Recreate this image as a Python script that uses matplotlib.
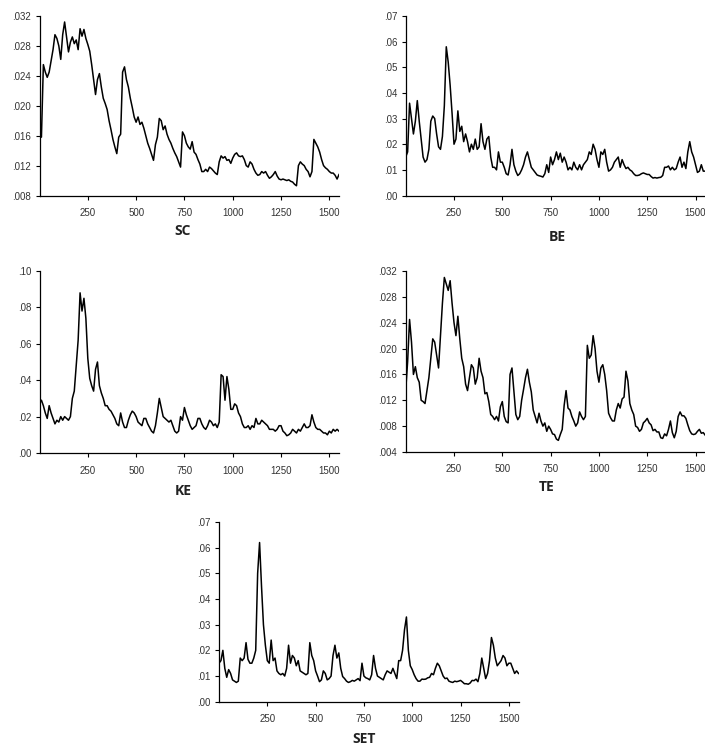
import numpy as np
import matplotlib
matplotlib.use("Agg")
import matplotlib.pyplot as plt
from matplotlib.ticker import FuncFormatter

# ---- data (values read every 10 observations, t = 0, 10, ..., 1550) ----
sc_values = [
    .0163, .0158, .0255, .0245, .0238, .0245, .026, .0275, .0295, .029,
    .028, .0262, .0295, .0312, .0292, .0272, .0285, .0292, .0283, .0288,
    .0275, .0303, .0293, .0302, .029, .0282, .0273, .0255, .0235, .0215,
    .0235, .0243, .0225, .021, .0203, .0195, .018, .0168, .0155, .0145,
    .0136, .0158, .0162, .0245, .0252, .0235, .0225, .021, .0198, .0185,
    .0178, .0185, .0175, .0178, .017, .016, .015, .0143, .0135, .0127,
    .0148, .0158, .0183, .018, .0168, .0173, .0162, .0155, .015, .0143,
    .0137, .0132, .0125, .0118, .0165, .016, .015, .0145, .0142, .0152,
    .0138, .0135, .0128, .0122, .0112, .0112, .0115, .0112, .0118, .0116,
    .0113, .011, .0108, .0125, .0133, .013, .0132, .0127, .0128, .0123,
    .013, .0135, .0137, .0133, .0132, .0133, .0128, .012, .0118, .0125,
    .0122, .0115, .011, .0107, .0108, .0112, .011, .0112, .0107, .0103,
    .0105, .0108, .0112, .0106, .0102, .0101, .0102, .0101, .01, .0101,
    .0099, .0098, .0095, .0093, .012, .0125, .0122, .012, .0115, .0112,
    .0105, .0112, .0155, .015, .0145, .0138, .0128, .012, .0117, .0115,
    .0112, .011, .011, .0107, .0102, .0108,
]
be_values = [
    .015, .017, .036, .03, .024, .029, .037, .029, .022, .015,
    .013, .014, .018, .029, .031, .03, .024, .019, .018, .023,
    .035, .058, .052, .043, .032, .02, .022, .033, .025, .027,
    .021, .024, .021, .017, .02, .018, .022, .018, .019, .028,
    .021, .018, .022, .023, .015, .011, .011, .01, .017, .013,
    .013, .011, .0085, .008, .012, .018, .012, .0095, .0078, .0085,
    .01, .012, .015, .017, .014, .011, .01, .009, .008, .0077,
    .0075, .0072, .0085, .012, .009, .015, .012, .014, .017, .014,
    .0165, .013, .015, .013, .01, .011, .01, .013, .011, .01,
    .012, .01, .012, .013, .014, .017, .016, .02, .018, .014,
    .011, .017, .016, .018, .013, .0095, .01, .011, .013, .014,
    .015, .011, .014, .012, .0105, .011, .01, .0095, .0085, .0078,
    .0078, .008, .0085, .0088, .0085, .0082, .0082, .0074, .0068, .007,
    .0068, .007, .0071, .0078, .011, .011, .0115, .01, .011, .01,
    .0105, .013, .015, .011, .013, .0105, .017, .021, .017, .015,
    .012, .009, .0095, .012, .0095, .0095,
]
ke_values = [
    .027, .029, .026, .022, .019, .026, .022, .019, .016, .018,
    .017, .02, .018, .02, .019, .018, .02, .03, .034, .048,
    .062, .088, .078, .085, .074, .052, .041, .037, .034, .046,
    .05, .037, .033, .03, .026, .026, .024, .023, .021, .019,
    .016, .015, .022, .017, .014, .014, .018, .021, .023, .022,
    .02, .017, .016, .015, .019, .019, .016, .014, .012, .011,
    .015, .022, .03, .025, .02, .019, .018, .017, .018, .015,
    .012, .011, .012, .02, .018, .025, .021, .018, .015, .013,
    .014, .015, .019, .019, .016, .014, .013, .015, .018, .017,
    .015, .016, .014, .017, .043, .042, .029, .042, .035, .024,
    .024, .027, .026, .022, .02, .016, .014, .014, .015, .013,
    .015, .014, .019, .016, .016, .018, .017, .016, .015, .013,
    .013, .013, .012, .013, .015, .015, .012, .011, .0095, .01,
    .011, .013, .012, .011, .013, .012, .014, .016, .014, .014,
    .015, .021, .017, .014, .013, .013, .012, .011, .011, .01,
    .012, .011, .013, .012, .013, .012,
]
te_values = [
    .0135, .018, .0245, .021, .016, .0172, .0155, .0148, .012, .0118,
    .0115, .0135, .0155, .0185, .0215, .021, .019, .017, .022, .027,
    .031, .03, .029, .0305, .027, .024, .022, .025, .0215, .0185,
    .0172, .0145, .0135, .0155, .0175, .017, .0145, .0155, .0185, .0165,
    .0155, .013, .0132, .0118, .0098, .0095, .009, .0095, .0088, .011,
    .0118, .0095, .0087, .0085, .016, .017, .0133, .0098, .009, .0095,
    .012, .0137, .0155, .0168, .0148, .0133, .0105, .0095, .0085, .01,
    .0088, .008, .0085, .0072, .008, .0075, .0068, .0067, .006, .0058,
    .0067, .0075, .0112, .0135, .0108, .0105, .0095, .0088, .008, .0085,
    .0102, .0095, .009, .0095, .0205, .0185, .019, .022, .02, .0165,
    .0148, .017, .0175, .016, .0135, .01, .0093, .0088, .0088, .0105,
    .0115, .0108, .0122, .0125, .0165, .015, .0115, .0105, .0098, .008,
    .0078, .0072, .0075, .0085, .0088, .0092, .0085, .0082, .0073, .0075,
    .0071, .0071, .0062, .0061, .0068, .0065, .0075, .0088, .007, .0062,
    .0072, .0095, .0102, .0096, .0096, .0092, .0082, .0073, .0068, .0067,
    .0068, .0072, .0075, .0069, .007, .0066,
]
set_values = [
    .015, .016, .02, .013, .0095, .0125, .011, .0085, .008, .0075,
    .008, .017, .016, .017, .023, .0165, .015, .015, .017, .02,
    .05, .062, .045, .03, .022, .016, .015, .024, .016, .017,
    .012, .011, .0105, .011, .01, .013, .022, .015, .018, .017,
    .014, .016, .012, .0115, .011, .0105, .011, .023, .018, .016,
    .012, .01, .0078, .0085, .012, .011, .0085, .009, .01, .018,
    .022, .017, .019, .013, .0098, .009, .008, .0075, .0078, .0083,
    .008, .0085, .009, .0082, .015, .01, .0093, .009, .0085, .0105,
    .018, .013, .01, .0095, .009, .0085, .0105, .012, .0115, .011,
    .013, .011, .009, .016, .016, .02, .028, .033, .02, .014,
    .0125, .0105, .009, .008, .008, .0088, .0087, .0088, .0093, .0095,
    .011, .0105, .013, .015, .014, .012, .01, .009, .0092, .008,
    .0077, .0075, .008, .0078, .008, .0083, .0077, .007, .007, .0068,
    .0073, .0083, .0082, .0088, .0078, .011, .017, .013, .009, .011,
    .016, .025, .022, .017, .014, .015, .016, .018, .017, .014,
    .015, .015, .013, .011, .012, .011,
]

x_ticks = [250, 500, 750, 1000, 1250, 1500]
panel_names = ["SC", "BE", "KE", "TE", "SET"]
panel_series = [sc_values, be_values, ke_values, te_values, set_values]
panel_yticks = [
    [.008, .012, .016, .020, .024, .028, .032],
    [.00, .01, .02, .03, .04, .05, .06, .07],
    [.00, .02, .04, .06, .08, .10],
    [.004, .008, .012, .016, .020, .024, .028, .032],
    [.00, .01, .02, .03, .04, .05, .06, .07],
]
panel_decimals = [3, 2, 2, 3, 2]

# ---- layout (pixel boxes: left, top, bottom) ----
W, H = 705, 749
boxes = [
    (39.5, 16, 195.5),
    (405.7, 16, 195.5),
    (39.5, 271, 453),
    (405.7, 271, 452),
    (219, 522, 701.7),
]
label_pos = [(183, 231), (557, 237), (183, 491), (547, 487), (364, 739)]
axw = 299.5

fig = plt.figure(figsize=(W / 100, H / 100), dpi=100)

for name, vals, yt, dec, (l, t, b), (lx, ly) in zip(
        panel_names, panel_series, panel_yticks, panel_decimals, boxes, label_pos):
    ax = fig.add_axes([l / W, (H - b) / H, axw / W, (b - t) / H])
    xs = np.arange(len(vals)) * 10
    ax.plot(xs, vals, color="black", linewidth=1.1)
    ax.set_xlim(0, 1550)
    ax.set_ylim(yt[0], yt[-1])
    ax.set_xticks(x_ticks)
    ax.set_yticks(yt)
    ax.yaxis.set_major_formatter(
        FuncFormatter(lambda v, p, d=dec: f"{v:.{d}f}".lstrip("0")))
    for s in ("top", "right"):
        ax.spines[s].set_visible(False)
    for s in ("left", "bottom"):
        ax.spines[s].set_linewidth(0.9)
    ax.tick_params(direction="out", length=3, width=0.8, labelsize=7,
                   labelcolor="#333333", pad=3)
    for lab in ax.get_xticklabels() + ax.get_yticklabels():
        lab.set_fontfamily("Liberation Sans")
    ax.tick_params(axis="x", pad=6)
    fig.text(lx / W, 1 - ly / H, name, ha="center", va="center",
             fontsize=10, fontweight="bold", family="Open Sans", color="#222222")

fig.savefig("out.png", dpi=100)
